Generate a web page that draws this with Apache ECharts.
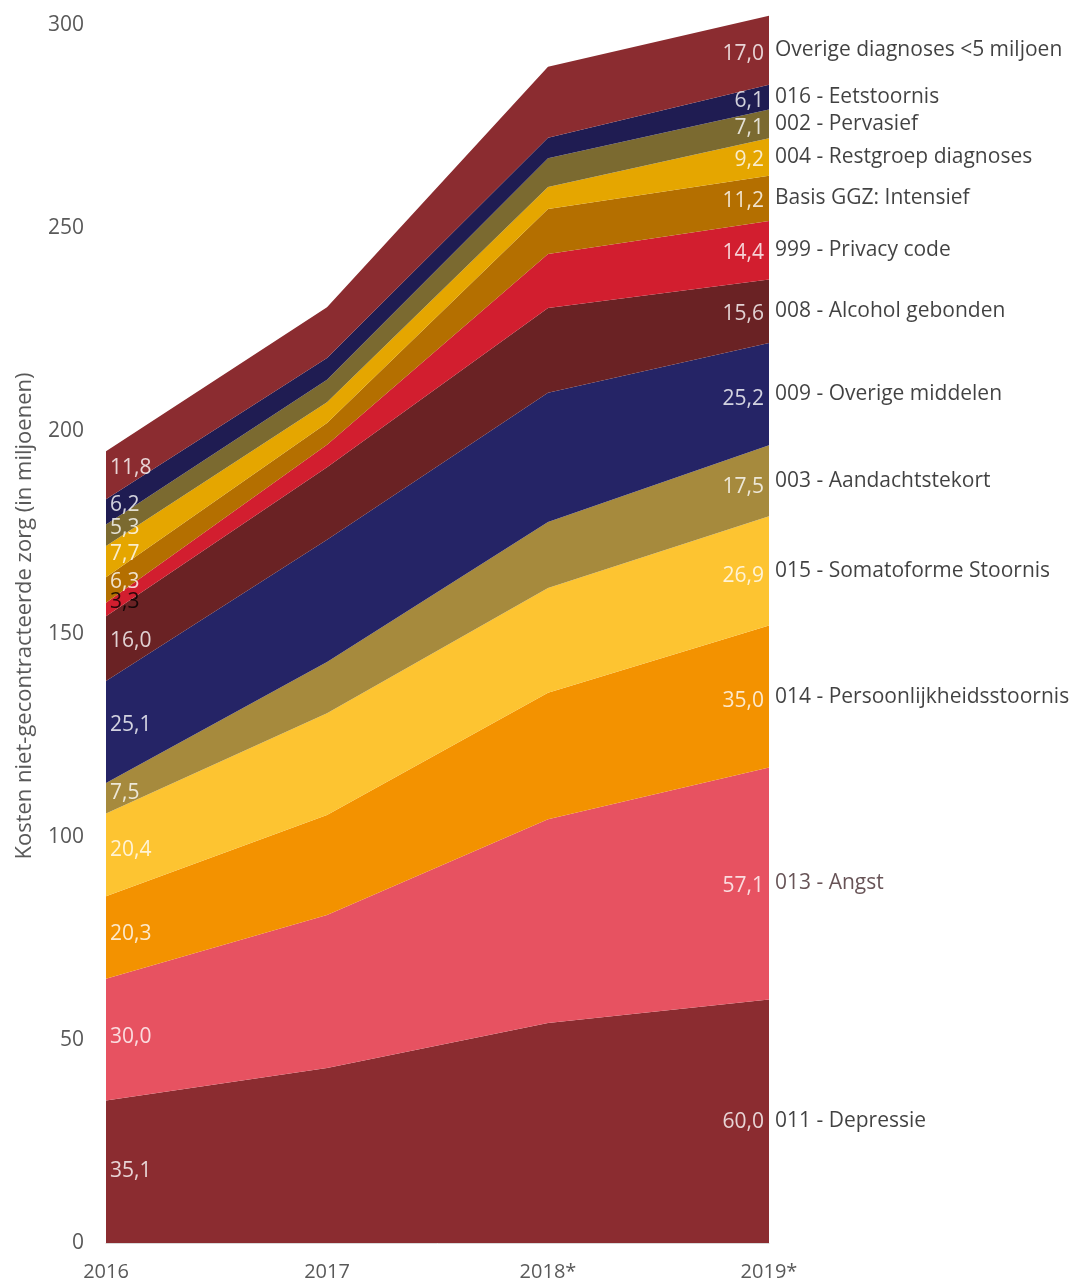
<!DOCTYPE html>
<html>
<head>
<meta charset="utf-8">
<script src="https://cdn.jsdelivr.net/npm/echarts@6/dist/echarts.min.js"></script>
<style>
  html, body { margin: 0; padding: 0; background: #fff; }
  #chart { width: 1071px; height: 1286px; }
</style>
</head>
<body>
<div id="chart"></div>
<script>
const years = ['2016', '2017', '2018*', '2019*']
const seriesNames = [
  '011 - Depressie',
  '013 - Angst',
  '014 - Persoonlijkheidsstoornis',
  '015 - Somatoforme Stoornis',
  '003 - Aandachtstekort',
  '009 - Overige middelen',
  '008 - Alcohol gebonden',
  '999 - Privacy code',
  'Basis GGZ: Intensief',
  '004 - Restgroep diagnoses',
  '002 - Pervasief',
  '016 - Eetstoornis',
  'Overige diagnoses <5 miljoen',
]
const depressie = [35.1, 43.1, 54.2, 60.0]
const angst = [30.0, 37.7, 50.2, 57.1]
const persoonlijkheid = [20.3, 24.6, 31.1, 35.0]
const somatoform = [20.4, 25.1, 25.8, 26.9]
const aandachtstekort = [7.5, 12.6, 16.3, 17.5]
const overigeMiddelen = [25.1, 30.1, 31.8, 25.2]
const alcohol = [16.0, 17.9, 20.9, 15.6]
const privacy = [3.3, 5.5, 13.3, 14.4]
const basisGgz = [6.3, 5.4, 11.1, 11.2]
const restgroep = [7.7, 5.1, 5.4, 9.2]
const pervasief = [5.3, 5.5, 7.1, 7.1]
const eetstoornis = [6.2, 5.4, 5.0, 6.1]
const overigeDiagnoses = [11.8, 12.5, 17.5, 17.0]
const yTicks = [0, 50, 100, 150, 200, 250, 300]

const allValues = [
  depressie, angst, persoonlijkheid, somatoform, aandachtstekort, overigeMiddelen,
  alcohol, privacy, basisGgz, restgroep, pervasief, eetstoornis, overigeDiagnoses,
]
const colors = [
  '#8b2c30', '#e75261', '#f39200', '#fdc431', '#a68a3d', '#252466', '#6a2224',
  '#d21e2f', '#b46f00', '#e5a600', '#7b6a30', '#1f1c52', '#8b2c30',
]
const nameColors = seriesNames.map((n, i) => (i === 1 ? '#42292d' : '#111'))
const leftLabelColors = seriesNames.map((n, i) => (i === 7 ? '#000' : '#fff'))

const fmt = (v) => v.toFixed(1).replace('.', ',')
const font = "'Open Sans', sans-serif"

// midpoints of each band per year, from the stacked values
const mids = []
const base = [0, 0, 0, 0]
allValues.forEach((vals) => {
  mids.push(vals.map((v, j) => base[j] + v / 2))
  vals.forEach((v, j) => { base[j] += v })
})

// value labels sit a little inside the plot, so follow the band's slope a bit
const leftLabels = allValues.map((vals, i) => ({
  value: [0, mids[i][0] + 0.05 * (mids[i][1] - mids[i][0])],
  label: { formatter: fmt(vals[0]), color: leftLabelColors[i] },
}))
const rightValueLabels = allValues.map((vals, i) => ({
  value: [3, mids[i][3] + 0.08 * (mids[i][2] - mids[i][3])],
  label: { formatter: fmt(vals[3]) },
}))
const rightNameLabels = allValues.map((vals, i) => ({
  value: [3, mids[i][3]],
  label: { formatter: seriesNames[i], color: nameColors[i] },
}))

const labelSeries = (data, position, color, distance) => ({
  type: 'scatter',
  data,
  symbolSize: 0,
  silent: true,
  clip: false,
  z: 10,
  label: {
    show: true,
    position,
    distance,
    color,
    fontFamily: font,
    fontSize: 21,
  },
})

const chart = echarts.init(document.getElementById('chart'), null, { renderer: 'canvas' })
chart.setOption({
  animation: false,
  backgroundColor: '#fff',
  grid: { left: 106, right: 302, top: 25, bottom: 43 },
  xAxis: {
    type: 'category',
    data: years,
    boundaryGap: false,
    axisTick: { show: false },
    axisLine: { lineStyle: { color: '#d9d9d9', width: 1 } },
    axisLabel: { color: '#595959', fontFamily: font, fontSize: 20, margin: 19 },
  },
  yAxis: {
    type: 'value',
    min: yTicks[0],
    max: yTicks[yTicks.length - 1],
    interval: yTicks[1] - yTicks[0],
    splitLine: { show: false },
    axisLine: { show: false },
    axisTick: { show: false },
    axisLabel: { color: '#595959', fontFamily: font, fontSize: 21, margin: 22 },
    name: 'Kosten niet-gecontracteerde zorg (in miljoenen)',
    nameLocation: 'middle',
    nameGap: 70,
    nameTextStyle: { color: '#595959', fontFamily: font, fontSize: 22, padding: [0, 0, 0, 36] },
  },
  series: [
    ...allValues.map((vals, i) => ({
      name: seriesNames[i],
      type: 'line',
      stack: 'total',
      data: vals,
      clip: false,
      showSymbol: false,
      lineStyle: { width: 0 },
      areaStyle: { color: colors[i], opacity: 1 },
      itemStyle: { color: colors[i] },
    })),
    labelSeries(leftLabels, 'right', '#fff', 4),
    labelSeries(rightValueLabels, 'left', '#fff', 5),
    labelSeries(rightNameLabels, 'right', '#111', 6),
  ],
})
</script>
</body>
</html>
